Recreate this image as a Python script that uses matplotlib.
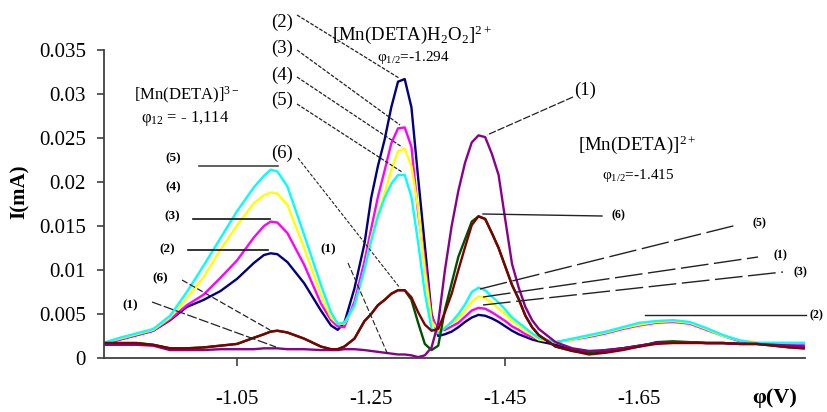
import matplotlib
matplotlib.use('Agg')
import matplotlib.pyplot as plt
from matplotlib.lines import Line2D

plt.rcParams['font.family'] = ['Liberation Serif', 'DejaVu Serif']
plt.rcParams['mathtext.fontset'] = 'custom'
plt.rcParams['mathtext.rm'] = 'Liberation Serif'
plt.rcParams['mathtext.it'] = 'Liberation Serif:italic'
plt.rcParams['mathtext.bf'] = 'Liberation Serif:bold'

# ---------------- data (potential in V, current in mA) ----------------
phi = [-0.85, -0.875, -0.90, -0.925, -0.95, -0.975, -1.00, -1.025, -1.05, -1.075,
       -1.09, -1.10, -1.11, -1.125, -1.15, -1.175, -1.19, -1.20, -1.21, -1.225,
       -1.24, -1.25, -1.26, -1.27, -1.28, -1.29, -1.30, -1.31, -1.32, -1.33,
       -1.34, -1.35, -1.36, -1.37, -1.38, -1.39, -1.40, -1.41, -1.42, -1.43,
       -1.44, -1.45, -1.46, -1.47, -1.48, -1.49, -1.50, -1.525, -1.55, -1.575,
       -1.60, -1.625, -1.65, -1.675, -1.70, -1.725, -1.75, -1.775, -1.80, -1.825,
       -1.85, -1.875, -1.895]

curve1 = [0.0015, 0.0015, 0.0015, 0.0014, 0.0009, 0.0009, 0.0009, 0.0010, 0.0010, 0.0010,
          0.0011, 0.0011, 0.0011, 0.0010, 0.0010, 0.0009, 0.0009, 0.0009, 0.0010, 0.0010,
          0.0009, 0.0008, 0.0007, 0.0006, 0.0005, 0.0004, 0.0004, 0.0003, 0.0001, 0.0003,
          0.0012, 0.0040, 0.0100, 0.0150, 0.0190, 0.0222, 0.0245, 0.0253, 0.0251, 0.0232,
          0.0208, 0.0157, 0.0107, 0.0080, 0.0058, 0.0043, 0.0033, 0.0018, 0.0011, 0.0008,
          0.0009, 0.0011, 0.0014, 0.0017, 0.0018, 0.0018, 0.0017, 0.0017, 0.0016, 0.0016,
          0.0015, 0.0014, 0.0013]

curve2 = [0.0016, 0.0021, 0.0026, 0.0031, 0.0043, 0.0058, 0.0066, 0.0076, 0.0090, 0.0108,
          0.0117, 0.0119, 0.0118, 0.0109, 0.0085, 0.0054, 0.0037, 0.0032, 0.0040, 0.0079,
          0.0130, 0.0182, 0.0218, 0.0248, 0.0285, 0.0314, 0.0317, 0.0285, 0.0205, 0.0128,
          0.0050, 0.0025, 0.0027, 0.0030, 0.0035, 0.0041, 0.0046, 0.0049, 0.0048, 0.0045,
          0.0041, 0.0036, 0.0031, 0.0027, 0.0024, 0.0021, 0.0019, 0.0015, 0.0009, 0.0006,
          0.0008, 0.0011, 0.0014, 0.0017, 0.0018, 0.0018, 0.0017, 0.0017, 0.0016, 0.0016,
          0.0015, 0.0014, 0.0013]

curve3 = [0.0016, 0.0021, 0.0026, 0.0031, 0.0044, 0.0060, 0.0072, 0.0091, 0.0111, 0.0137,
          0.0150, 0.0155, 0.0154, 0.0142, 0.0106, 0.0062, 0.0043, 0.0036, 0.0035, 0.0064,
          0.0110, 0.0147, 0.0183, 0.0213, 0.0244, 0.0261, 0.0262, 0.0240, 0.0165, 0.0110,
          0.0047, 0.0032, 0.0032, 0.0036, 0.0040, 0.0047, 0.0054, 0.0057, 0.0056, 0.0052,
          0.0047, 0.0042, 0.0036, 0.0032, 0.0027, 0.0024, 0.0021, 0.0018, 0.0021, 0.0024,
          0.0028, 0.0033, 0.0037, 0.0040, 0.0041, 0.0039, 0.0032, 0.0025, 0.0019, 0.0017,
          0.0017, 0.0016, 0.0016]

curve4 = [0.0017, 0.0022, 0.0027, 0.0032, 0.0046, 0.0068, 0.0092, 0.0123, 0.0151, 0.0176,
          0.0185, 0.0188, 0.0187, 0.0174, 0.0125, 0.0072, 0.0046, 0.0039, 0.0039, 0.0058,
          0.0100, 0.0137, 0.0164, 0.0187, 0.0214, 0.0235, 0.0238, 0.0218, 0.0170, 0.0100,
          0.0042, 0.0031, 0.0035, 0.0039, 0.0046, 0.0054, 0.0064, 0.0070, 0.0068, 0.0063,
          0.0056, 0.0050, 0.0042, 0.0037, 0.0031, 0.0026, 0.0021, 0.0018, 0.0021, 0.0025,
          0.0029, 0.0034, 0.0038, 0.0041, 0.0042, 0.0040, 0.0033, 0.0025, 0.0020, 0.0018,
          0.0018, 0.0018, 0.0018]

curve5 = [0.0017, 0.0023, 0.0028, 0.0033, 0.0048, 0.0075, 0.0105, 0.0136, 0.0167, 0.0194,
          0.0207, 0.0214, 0.0212, 0.0195, 0.0140, 0.0083, 0.0052, 0.0039, 0.0040, 0.0060,
          0.0101, 0.0133, 0.0161, 0.0182, 0.0198, 0.0208, 0.0208, 0.0183, 0.0131, 0.0074,
          0.0033, 0.0028, 0.0034, 0.0041, 0.0050, 0.0061, 0.0075, 0.0080, 0.0077, 0.0070,
          0.0063, 0.0055, 0.0046, 0.0040, 0.0034, 0.0028, 0.0023, 0.0018, 0.0022, 0.0026,
          0.0030, 0.0035, 0.0040, 0.0042, 0.0043, 0.0041, 0.0034, 0.0026, 0.0020, 0.0017,
          0.0017, 0.0017, 0.0017]

curve6 = [0.0017, 0.0017, 0.0017, 0.0015, 0.0011, 0.0011, 0.0012, 0.0014, 0.0016, 0.0023,
          0.0027, 0.0030, 0.0031, 0.0029, 0.0022, 0.0013, 0.0010, 0.0010, 0.0013, 0.0022,
          0.0042, 0.0050, 0.0060, 0.0066, 0.0073, 0.0077, 0.0077, 0.0069, 0.0052, 0.0038,
          0.0031, 0.0033, 0.0052, 0.0073, 0.0100, 0.0126, 0.0151, 0.0161, 0.0158, 0.0142,
          0.0125, 0.0104, 0.0083, 0.0067, 0.0048, 0.0035, 0.0026, 0.0013, 0.0008, 0.0004,
          0.0006, 0.0009, 0.0013, 0.0016, 0.0017, 0.0017, 0.0017, 0.0017, 0.0016, 0.0016,
          0.0014, 0.0012, 0.0011]

curve6_repeat = [0.0017, 0.0017, 0.0017, 0.0015, 0.0011, 0.0011, 0.0012, 0.0014, 0.0016, 0.0023,
                 0.0027, 0.0030, 0.0031, 0.0029, 0.0022, 0.0013, 0.0010, 0.0010, 0.0013, 0.0022,
                 0.0042, 0.0050, 0.0060, 0.0066, 0.0073, 0.0077, 0.0077, 0.0066, 0.0040, 0.0016,
                 0.0009, 0.0014, 0.0055, 0.0085, 0.0115, 0.0135, 0.0155, 0.0161, 0.0158, 0.0142,
                 0.0125, 0.0104, 0.0083, 0.0067, 0.0048, 0.0035, 0.0026, 0.0013, 0.0008, 0.0006,
                 0.0009, 0.0011, 0.0013, 0.0018, 0.0019, 0.0018, 0.0017, 0.0017, 0.0016, 0.0016,
                 0.0014, 0.0012, 0.0011]

x_ticks = [-1.05, -1.25, -1.45, -1.65]
x_tick_labels = ['-1.05', '-1.25', '-1.45', '-1.65']
y_ticks = [0, 0.005, 0.01, 0.015, 0.02, 0.025, 0.03, 0.035]
y_tick_labels = ['0', '0.005', '0.01', '0.015', '0.02', '0.025', '0.03', '0.035']

# ---------------- figure ----------------
W, H = 828, 412
fig = plt.figure(figsize=(W / 100, H / 100), dpi=100)
ax = fig.add_axes([104 / W, 54 / H, 701 / W, 308 / H])

series = [
    (curve2, '#000080'),
    (curve3, '#FF00FF'),
    (curve4, '#FFFF00'),
    (curve5, '#00FFFF'),
    (curve6_repeat, '#005000'),
    (curve1, '#8B008B'),
    (curve6, '#800000'),
]
for ys, c in series:
    ax.plot(phi, ys, color=c, lw=1.7, solid_joinstyle='round')

ax.set_xlim(-0.8515, -1.897)
ax.set_ylim(0, 0.035)

for s in ['top', 'right']:
    ax.spines[s].set_visible(False)
for s in ['left', 'bottom']:
    ax.spines[s].set_color('#404040')
    ax.spines[s].set_linewidth(1.3)

ax.set_yticks(y_ticks)
ax.set_yticklabels(y_tick_labels, fontsize=15)
ax.set_xticks(x_ticks)
ax.set_xticklabels(x_tick_labels, fontsize=15)
ax.tick_params(axis='y', direction='out', length=5, width=1.2, color='#404040', pad=8)
ax.tick_params(axis='x', direction='out', length=6, width=1.2, color='#404040', pad=17)
for i, t in enumerate(ax.xaxis.get_major_ticks()):
    if i in (1, 3):
        t.tick1line.set_visible(False)

fig.text(20 / W, 1 - 192 / H, 'I(mA)', rotation=90, fontsize=15, fontweight='bold',
         ha='center', va='center')
fig.text(775 / W, 1 - 398 / H, 'φ(V)', fontsize=16, fontweight='bold',
         ha='center', va='center')


# ---------------- annotations (positions in image pixels, top-left origin) ----------------
def P(px, py):
    return px / W, 1 - py / H


def txt(px, py, s, size, bold=False, ha='center'):
    x, y = P(px, py)
    fig.text(x, y, s, fontsize=size, fontweight='bold' if bold else 'normal',
             ha=ha, va='center')


def seg(p0, p1, ls='-', lw=0.9, color='#222222'):
    x0, y0 = P(*p0)
    x1, y1 = P(*p1)
    ln = Line2D([x0, x1], [y0, y1], transform=fig.transFigure, color=color, lw=lw,
                linestyle=ls)
    fig.add_artist(ln)


# left group
txt(187, 95, r'$\mathrm{[Mn(DETA)]^{3-}}$', 12)
txt(185, 118, r'$\mathrm{φ_{12}}$ = - 1,114', 12)
txt(173, 158, '(5)', 9.5, bold=True)
seg((199, 166), (278, 166), lw=1.2, color='#444444')
txt(173, 187, '(4)', 9.5, bold=True)
txt(172, 216, '(3)', 9.5, bold=True)
seg((193, 219), (270, 219), lw=1.2, color='#111111')
txt(167, 249, '(2)', 9.5, bold=True)
seg((188, 250), (268, 250), lw=1.2, color='#111111')
txt(160, 278, '(6)', 9.5, bold=True)
seg((182, 280), (270, 330), ls=(0, (5, 2)), lw=0.9)
txt(130, 305, '(1)', 9.5, bold=True)
seg((152, 302), (276, 347), ls=(0, (8, 2)), lw=0.9)

# middle group
txt(412, 35, r'$\mathrm{[Mn(DETA)H_2O_2]^{2+}}$', 13.5)
txt(413, 57, r'$\mathrm{φ_{1/2}}$=-1.294', 11)
txt(282, 22, '(2)', 13.5)
seg((297, 15), (399, 78), ls=(0, (3, 1.2)), lw=0.9)
txt(282, 48, '(3)', 13.5)
seg((297, 50), (400, 125), ls=(0, (3, 1.2)), lw=0.9)
txt(282, 75, '(4)', 13.5)
seg((297, 77), (402, 147), ls=(0, (3, 1.2)), lw=0.9)
txt(282, 100, '(5)', 13.5)
seg((297, 104), (402, 172), ls=(0, (3, 1.2)), lw=0.9)
txt(282, 153, '(6)', 13.5)
seg((298, 158), (400, 288), ls=(0, (3, 1.5)), lw=0.8)
txt(328, 249, '(1)', 9.5, bold=True)
seg((348, 263), (388, 355), ls=(0, (5, 2)), lw=0.8)

# right group
txt(585, 90, '(1)', 13.5)
seg((573, 97), (487, 135), ls=(0, (6, 1.5)), lw=0.9)
txt(637, 145, r'$\mathrm{[Mn(DETA)]^{2+}}$', 13.5)
txt(638, 176, r'$\mathrm{φ_{1/2}}$=-1.415', 11)
txt(618, 215, '(6)', 8.5, bold=True)
seg((483, 214), (602, 216), lw=1.0)
txt(759, 223, '(5)', 8.5, bold=True)
seg((480, 289), (737, 225), ls=(0, (20, 4)), lw=1.0)
txt(780, 255, '(1)', 8.5, bold=True)
seg((483, 297), (758, 257), ls=(0, (20, 4)), lw=1.0)
txt(800, 272, '(3)', 8.5, bold=True)
seg((483, 305), (783, 272), ls=(0, (20, 4)), lw=1.0)
txt(810, 315, '(2)', 8.5, bold=True, ha='left')
seg((645, 315), (806, 315), lw=1.0)

fig.savefig('out.png', dpi=100)
